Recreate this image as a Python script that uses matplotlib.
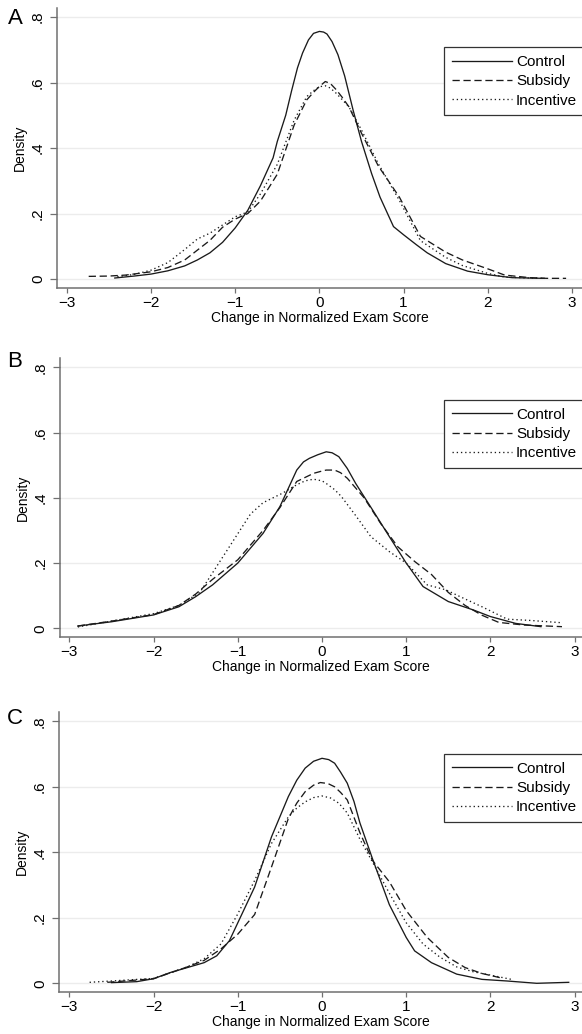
"""
Kernel densities of the change in normalized exam score, by treatment group.
Three stacked panels (A, B, C), Stata-like styling.
"""
import matplotlib
matplotlib.use("Agg")
import matplotlib.pyplot as plt

plt.rcParams["font.family"] = ["Liberation Sans", "DejaVu Sans"]

GROUPS = ["Control", "Subsidy", "Incentive"]
PANELS = ["A", "B", "C"]

# ---- panel A ----
a_ctrl_x = [-2.43, -2.2, -2.0, -1.8, -1.6, -1.45, -1.3, -1.15, -1.0, -0.85, -0.7, -0.55, -0.5, -0.4, -0.33,
            -0.26, -0.2, -0.13, -0.07, 0.0, 0.05, 0.09, 0.15, 0.22, 0.3, 0.4, 0.5, 0.62, 0.72, 0.8, 0.88,
            1.0, 1.15, 1.28, 1.5, 1.76, 2.0, 2.29, 2.67]
a_ctrl_y = [0.003, 0.009, 0.015, 0.025, 0.04, 0.058, 0.08, 0.112, 0.156, 0.21, 0.285, 0.37, 0.42, 0.5, 0.575,
            0.645, 0.69, 0.73, 0.75, 0.756, 0.754, 0.748, 0.725, 0.685, 0.62, 0.516, 0.42, 0.322, 0.25, 0.205, 0.16,
            0.135, 0.105, 0.08, 0.047, 0.024, 0.013, 0.004, 0.002]
a_subs_x = [-2.74, -2.5, -2.3, -2.0, -1.8, -1.6, -1.45, -1.3, -1.15, -1.0, -0.85, -0.7, -0.5, -0.3, -0.15,
            -0.07, 0.0, 0.07, 0.13, 0.2, 0.27, 0.35, 0.5, 0.7, 0.95, 1.2, 1.5, 1.7, 2.0, 2.2, 2.5, 2.7, 2.93]
a_subs_y = [0.008, 0.009, 0.012, 0.022, 0.035, 0.058, 0.088, 0.118, 0.158, 0.183, 0.2, 0.238, 0.32, 0.47, 0.547,
            0.57, 0.588, 0.603, 0.597, 0.578, 0.555, 0.526, 0.445, 0.345, 0.25, 0.13, 0.082, 0.058, 0.031, 0.012,
            0.004, 0.002, 0.002]
a_inc_x = [-2.4, -2.2, -2.0, -1.8, -1.6, -1.45, -1.3, -1.15, -1.0, -0.85, -0.7, -0.5, -0.3, -0.15,
           -0.07, 0.0, 0.07, 0.13, 0.2, 0.35, 0.5, 0.7, 0.95, 1.2, 1.5, 1.7, 2.0, 2.2, 2.5, 2.65]
a_inc_y = [0.007, 0.014, 0.027, 0.05, 0.09, 0.122, 0.14, 0.165, 0.19, 0.205, 0.26, 0.35, 0.485, 0.557,
           0.575, 0.587, 0.59, 0.583, 0.567, 0.526, 0.455, 0.352, 0.24, 0.117, 0.066, 0.041, 0.017, 0.006,
           0.003, 0.002]

# ---- panel B ----
b_ctrl_x = [-2.9, -2.5, -2.0, -1.7, -1.5, -1.3, -1.0, -0.7, -0.5, -0.3, -0.22, -0.15, -0.05, 0.05, 0.12,
            0.2, 0.3, 0.4, 0.6, 0.8, 1.0, 1.2, 1.5, 1.8, 2.0, 2.3, 2.6]
b_ctrl_y = [0.007, 0.02, 0.041, 0.066, 0.097, 0.133, 0.2, 0.291, 0.373, 0.485, 0.51, 0.521, 0.532, 0.541, 0.538,
            0.526, 0.49, 0.444, 0.363, 0.281, 0.2, 0.128, 0.082, 0.056, 0.036, 0.015, 0.005]
b_subs_x = [-2.9, -2.5, -2.0, -1.7, -1.5, -1.3, -1.0, -0.7, -0.5, -0.3, -0.1, 0.0, 0.05, 0.15, 0.22, 0.3,
            0.4, 0.5, 0.7, 0.9, 1.1, 1.3, 1.5, 1.7, 1.9, 2.1, 2.4, 2.85]
b_subs_y = [0.007, 0.022, 0.042, 0.07, 0.105, 0.15, 0.21, 0.3, 0.37, 0.45, 0.475, 0.482, 0.485, 0.485, 0.477,
            0.46, 0.43, 0.4, 0.32, 0.25, 0.205, 0.165, 0.11, 0.07, 0.04, 0.018, 0.01, 0.005]
b_inc_x = [-2.9, -2.5, -2.0, -1.7, -1.45, -1.35, -1.25, -1.15, -1.0, -0.85, -0.7, -0.47, -0.3, -0.2, -0.1,
           0.0, 0.05, 0.15, 0.23, 0.41, 0.58, 0.8, 1.0, 1.25, 1.47, 1.64, 1.9, 2.2, 2.48, 2.85]
b_inc_y = [0.004, 0.022, 0.045, 0.07, 0.11, 0.15, 0.19, 0.23, 0.29, 0.35, 0.385, 0.414, 0.44, 0.452, 0.457,
           0.452, 0.444, 0.425, 0.404, 0.342, 0.281, 0.235, 0.2, 0.133, 0.118, 0.097, 0.066, 0.028, 0.024, 0.017]

# ---- panel C ----
c_ctrl_x = [-2.5, -2.2, -2.0, -1.8, -1.6, -1.4, -1.25, -1.1, -0.95, -0.8, -0.6, -0.4, -0.3, -0.2, -0.1, 0.0,
            0.08, 0.15, 0.22, 0.3, 0.38, 0.45, 0.6, 0.8, 1.0, 1.1, 1.3, 1.6, 1.9, 2.2, 2.55, 2.93]
c_ctrl_y = [0.002, 0.005, 0.014, 0.033, 0.048, 0.063, 0.084, 0.13, 0.212, 0.294, 0.447, 0.57, 0.62, 0.657, 0.678,
            0.687, 0.683, 0.672, 0.645, 0.611, 0.555, 0.49, 0.38, 0.24, 0.14, 0.099, 0.063, 0.028, 0.012, 0.007,
            0.0, 0.003]
c_subs_x = [-2.55, -2.0, -1.6, -1.4, -1.2, -1.0, -0.8, -0.6, -0.4, -0.3, -0.2, -0.1, -0.02, 0.07, 0.15, 0.22,
            0.3, 0.45, 0.6, 0.8, 1.0, 1.25, 1.5, 1.7, 1.9, 2.15]
c_subs_y = [0.003, 0.014, 0.05, 0.07, 0.105, 0.15, 0.21, 0.355, 0.503, 0.55, 0.585, 0.605, 0.613, 0.61, 0.6, 0.583,
            0.56, 0.46, 0.375, 0.31, 0.222, 0.14, 0.079, 0.048, 0.03, 0.015]
c_inc_x = [-2.76, -2.0, -1.6, -1.4, -1.2, -1.0, -0.8, -0.6, -0.4, -0.3, -0.2, -0.1, 0.0, 0.1, 0.2, 0.3, 0.45,
           0.6, 0.8, 1.0, 1.2, 1.4, 1.6, 1.8, 2.0, 2.25]
c_inc_y = [0.003, 0.015, 0.05, 0.075, 0.12, 0.212, 0.314, 0.427, 0.508, 0.535, 0.554, 0.567, 0.572, 0.566, 0.55,
           0.52, 0.44, 0.37, 0.275, 0.185, 0.12, 0.08, 0.05, 0.035, 0.025, 0.012]

Y_TICKS = [0, 0.2, 0.4, 0.6, 0.8]
Y_TICK_LABELS = ["0", ".2", ".4", ".6", ".8"]
X_TICKS = [-3, -2, -1, 0, 1, 2, 3]

SERIES = {
    "A": [(a_ctrl_x, a_ctrl_y), (a_subs_x, a_subs_y), (a_inc_x, a_inc_y)],
    "B": [(b_ctrl_x, b_ctrl_y), (b_subs_x, b_subs_y), (b_inc_x, b_inc_y)],
    "C": [(c_ctrl_x, c_ctrl_y), (c_subs_x, c_subs_y), (c_inc_x, c_inc_y)],
}

# layout in pixels: (spine left, axis top, axis bottom, x of tick -3)
W, H = 582, 1034
LAYOUT = {
    "A": (57.3, 8.0, 288.0, 66.8),
    "B": (60.0, 358.3, 637.3, 69.4),
    "C": (59.3, 712.3, 992.3, 69.4),
}
LETTER_Y = {"A": 18.5, "B": 361.7, "C": 718.3}
LEG_TOP = {"A": 47.3, "B": 400.0, "C": 754.0}
UNIT_X = 84.2
LINE = dict(color="#1a1a1a", linewidth=0.95)
STYLES = [dict(linestyle="-"),
          dict(linestyle=(0, (5.5, 2.8))),
          dict(linestyle=(0, (1.0, 2.2)))]
SPINE = "#707070"

fig = plt.figure(figsize=(W / 100, H / 100), dpi=100)

for p in PANELS:
    left, top, bottom, xm3 = LAYOUT[p]
    ax = fig.add_axes([left / W, 1 - bottom / H, (W - left) / W, (bottom - top) / H])
    x0 = -3 - (xm3 - left) / UNIT_X
    x1 = -3 + (W - xm3) / UNIT_X
    unit_y = (bottom - top - 18) / 0.8
    ax.set_xlim(x0, x1)
    ax.set_ylim(-9 / unit_y, 0.8 + 9 / unit_y)

    for (xs, ys), name, st in zip(SERIES[p], GROUPS, STYLES):
        ax.plot(xs, ys, label=name, **LINE, **st)

    for side in ("top", "right"):
        ax.spines[side].set_visible(False)
    for side in ("left", "bottom"):
        ax.spines[side].set_color(SPINE)
        ax.spines[side].set_linewidth(1.1)

    ax.set_yticks(Y_TICKS)
    ax.set_yticklabels(Y_TICK_LABELS, rotation=90, va="center")
    ax.set_xticks(X_TICKS)
    ax.set_xticklabels([str(t).replace("-", "\u2212") for t in X_TICKS])
    ax.tick_params(axis="y", direction="out", length=4.8, width=0.9, color=SPINE, pad=4, labelsize=11)
    ax.tick_params(axis="x", direction="out", length=3.6, width=0.9, color=SPINE, pad=2, labelsize=11)
    ax.grid(axis="y", color="#ececec", linewidth=1.0)
    ax.set_axisbelow(True)

    ax.set_ylabel("Density", fontsize=10, labelpad=3)
    ax.set_xlabel("Change in Normalized Exam Score", fontsize=10, labelpad=1)

    leg_x = (444.3 - left) / (W - left)
    leg_y = (bottom - LEG_TOP[p]) / (bottom - top)
    leg = ax.legend(loc="upper left", bbox_to_anchor=(leg_x, leg_y), borderaxespad=0,
                    fontsize=11, handlelength=3.9, handletextpad=0.3, labelspacing=0.35,
                    borderpad=0.5, fancybox=False, framealpha=1, edgecolor="#333333")
    leg.get_frame().set_linewidth(0.9)

    fig.text(15 / W, 1 - LETTER_Y[p] / H, p, fontsize=16, ha="center", va="center")

fig.savefig("out.png", dpi=100)
